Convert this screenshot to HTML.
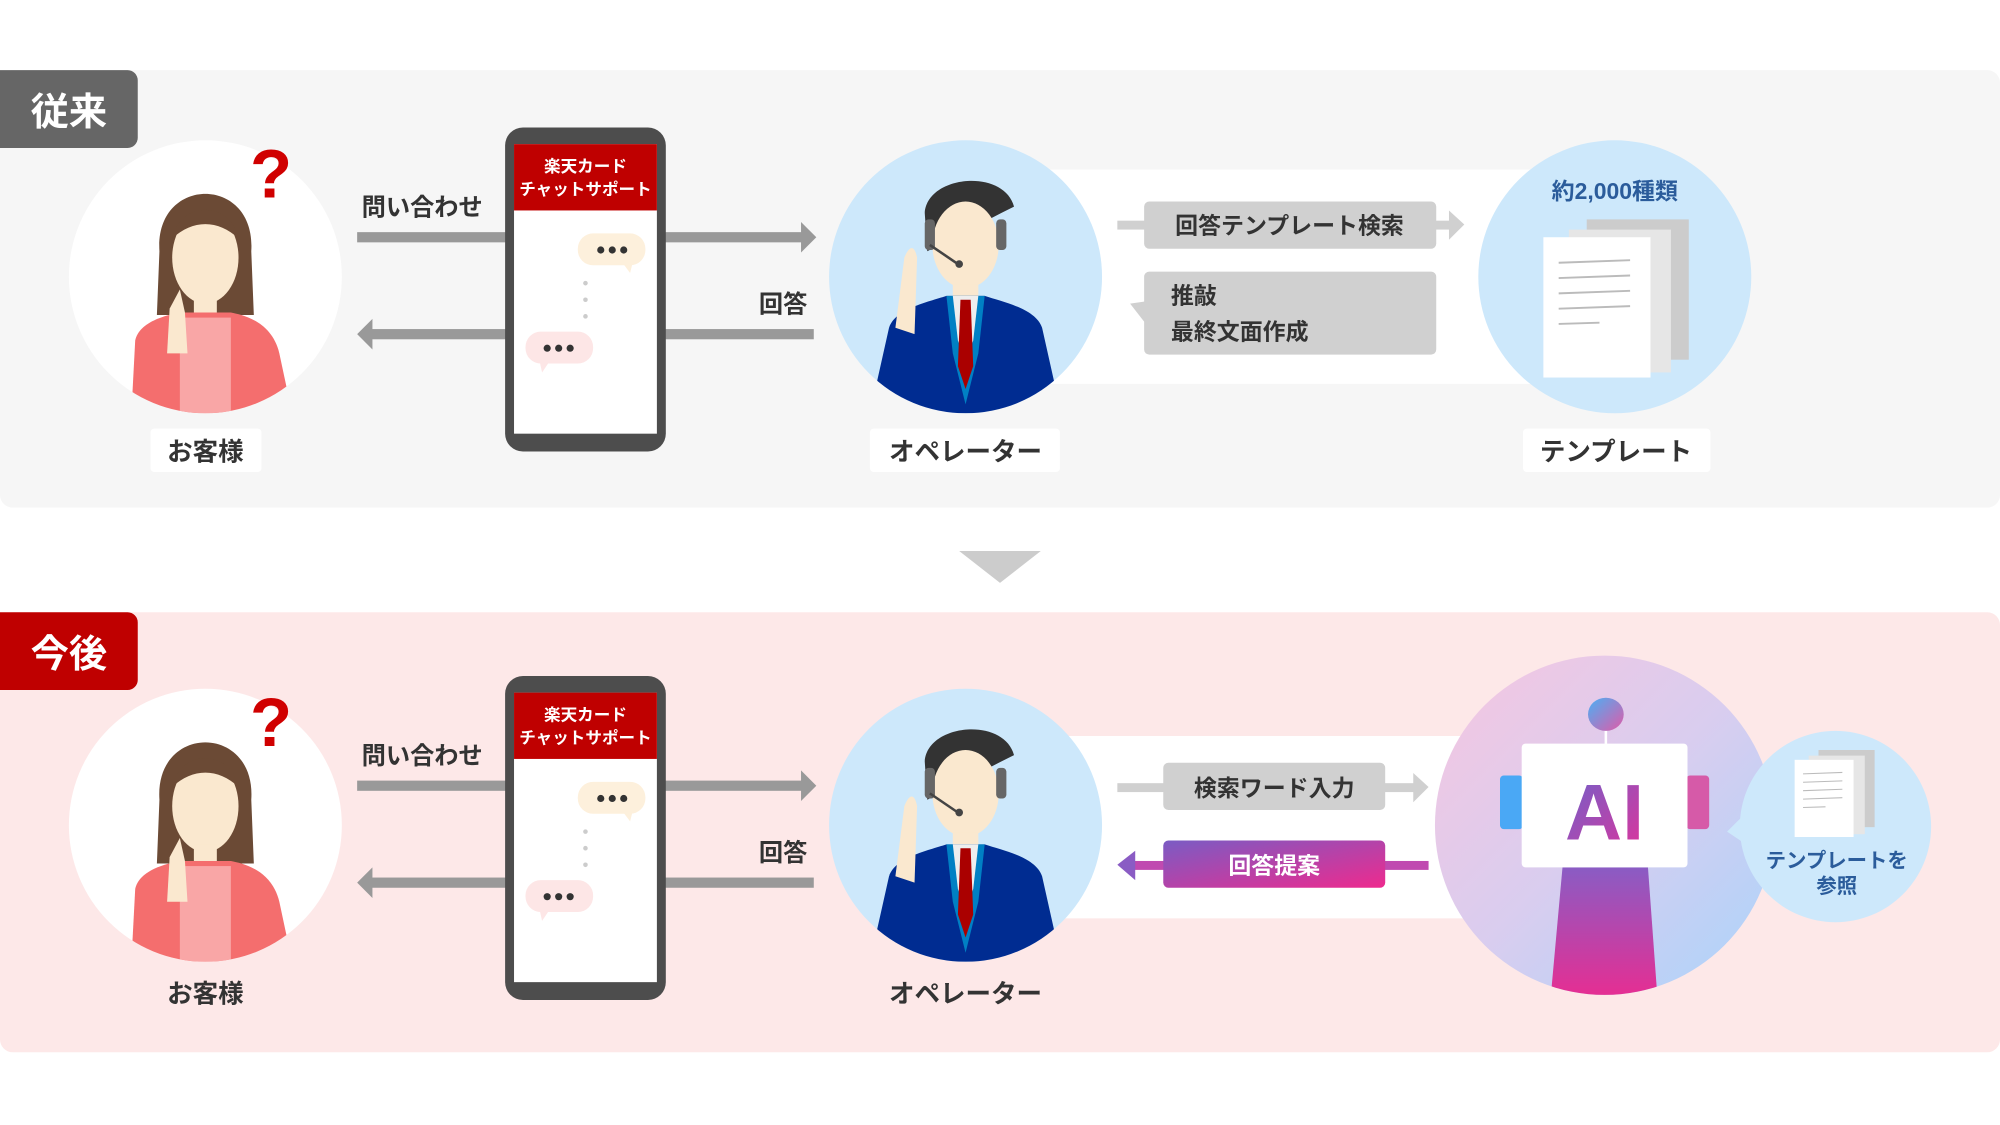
<!DOCTYPE html>
<html><head><meta charset="utf-8"><style>
html,body{margin:0;padding:0;background:#fff;width:2000px;height:1125px;overflow:hidden}
svg text{font-family:"Liberation Sans","Noto Sans CJK JP",sans-serif;font-weight:bold}
</style></head><body>
<svg width="2000" height="1125" viewBox="0 0 1568 882" xmlns="http://www.w3.org/2000/svg">
<defs>
<linearGradient id="gp" x1="0" y1="0" x2="1" y2="1"><stop offset="0" stop-color="#7a5cc4"/><stop offset="1" stop-color="#ee2a8e"/></linearGradient>
<linearGradient id="gai" x1="0" y1="0" x2="1" y2="1"><stop offset="0" stop-color="#f6c6e0"/><stop offset="0.5" stop-color="#d9cdef"/><stop offset="1" stop-color="#a9d4fb"/></linearGradient>
<linearGradient id="gtext" x1="0" y1="0" x2="1" y2="1"><stop offset="0" stop-color="#6b63cc"/><stop offset="1" stop-color="#e0339a"/></linearGradient>
<linearGradient id="gbody" x1="0" y1="0" x2="0" y2="1"><stop offset="0" stop-color="#8a5cc4"/><stop offset="1" stop-color="#ee2a8e"/></linearGradient>
<linearGradient id="gball" x1="0" y1="0" x2="1" y2="1"><stop offset="0" stop-color="#4ab0f5"/><stop offset="1" stop-color="#e05aa8"/></linearGradient>
<g id="woman">
<path d="M-36 -20 C-40 -80 40 -80 36 -20 L38 30 L-38 30 Z" fill="#6b4a35"/>
<ellipse cx="0" cy="-15" rx="26" ry="36" fill="#fae8cf"/>
<path d="M-26 -30 C-20 -60 20 -60 26 -30 C10 -45 -10 -45 -26 -30Z" fill="#6b4a35"/>
<rect x="-9" y="15" width="18" height="22" fill="#fae8cf"/>
<path d="M-58 107 L-55 50 C-52 35 -30 30 -20 28 L20 28 C30 30 52 35 58 60 L68 107 Z" fill="#f46e6e"/>
<rect x="-20" y="32" width="40" height="75" fill="#f9a6a6"/>
<path d="M-30 60 L-28 25 L-20 10 L-16 28 L-14 60Z" fill="#fae8cf"/>
</g>
<g id="man">
<path d="M-32 -50 C-30 -80 30 -85 38 -55 L28 -50 L-30 -20Z" fill="#333"/>
<ellipse cx="0" cy="-25" rx="26" ry="34" fill="#fae8cf"/>
<rect x="-32" y="-45" width="8" height="24" rx="3" fill="#666"/><rect x="24" y="-45" width="8" height="24" rx="3" fill="#666"/>
<path d="M-28 -25 L-6 -10" stroke="#444" stroke-width="2"/><circle cx="-5" cy="-10" r="3" fill="#444"/>
<rect x="-10" y="6" width="20" height="16" fill="#fae8cf"/>
<path d="M-75 107 L-60 40 C-55 25 -30 20 -15 15 L15 15 C30 20 55 25 60 40 L75 107Z" fill="#002c91"/>
<path d="M-15 15 L15 15 L10 60 L0 100 L-10 60Z" fill="#0080c4"/>
<path d="M-10 15 L10 15 L6 50 L0 65 L-6 50Z" fill="#eee"/>
<path d="M-4 18 L4 18 L6 70 L0 88 L-6 70Z" fill="#a00"/>
<path d="M-55 40 L-48 -15 C-44 -25 -40 -25 -38 -15 L-40 45Z" fill="#fae8cf"/>
</g>
<g id="phone">
<rect x="396" y="100" width="126" height="254" rx="14" fill="#4d4d4d"/>
<rect x="403" y="113" width="112" height="227" fill="#fff"/>
<rect x="403" y="113" width="112" height="52" fill="#bf0000"/>
<text x="459" y="135" font-size="13" fill="#fff" text-anchor="middle">楽天カード</text>
<text x="459" y="153" font-size="13" fill="#fff" text-anchor="middle">チャットサポート</text>
<rect x="453" y="183" width="53" height="25" rx="12" fill="#fdf0dc"/><path d="M488 206 L494 214 L496 206Z" fill="#fdf0dc"/>
<circle cx="471" cy="196" r="2.8" fill="#333"/><circle cx="480" cy="196" r="2.8" fill="#333"/><circle cx="489" cy="196" r="2.8" fill="#333"/>
<circle cx="459" cy="222" r="1.8" fill="#ccc"/><circle cx="459" cy="235" r="1.8" fill="#ccc"/><circle cx="459" cy="248" r="1.8" fill="#ccc"/>
<rect x="412" y="260" width="53" height="25" rx="12" fill="#fde6e6"/><path d="M423 283 L425 292 L431 283Z" fill="#fde6e6"/>
<circle cx="429" cy="273" r="2.8" fill="#333"/><circle cx="438" cy="273" r="2.8" fill="#333"/><circle cx="447" cy="273" r="2.8" fill="#333"/>
</g>
<g id="doc">
<rect x="34" y="0" width="80" height="110" fill="#ccc"/>
<rect x="20" y="8" width="80" height="112" fill="#e6e6e6"/>
<rect x="0" y="14" width="84" height="110" fill="#fff"/>
<g stroke="#bbb" stroke-width="1.5"><line x1="12" y1="34" x2="68" y2="32"/><line x1="12" y1="46" x2="68" y2="44"/><line x1="12" y1="58" x2="68" y2="56"/><line x1="12" y1="70" x2="68" y2="68"/><line x1="12" y1="82" x2="44" y2="81"/></g>
</g>
</defs>

<rect x="0" y="55" width="1568" height="343" rx="10" fill="#f6f6f6"/>
<path d="M0 55 H100 a8 8 0 0 1 8 8 V108 a8 8 0 0 1 -8 8 H0Z" fill="#666"/>
<text x="54" y="98" font-size="30" fill="#fff" text-anchor="middle">従来</text>

<circle cx="161" cy="217" r="107" fill="#fff"/>
<clipPath id="c1"><circle cx="161" cy="217" r="107"/></clipPath>
<g clip-path="url(#c1)"><use href="#woman" x="161" y="217"/></g>
<text x="196" y="155" font-size="54" fill="#d00000">?</text>
<rect x="118" y="336" width="87" height="34" rx="3" fill="#fff"/>
<text x="161" y="361" font-size="20" fill="#333" text-anchor="middle">お客様</text>

<text x="331" y="169" font-size="19" fill="#333" text-anchor="middle">問い合わせ</text>
<rect x="280" y="182" width="350" height="8" fill="#999"/><path d="M628 174 L640 186 L628 198Z" fill="#999"/>
<rect x="290" y="258" width="348" height="8" fill="#999"/><path d="M292 250 L280 262 L292 274Z" fill="#999"/>
<text x="614" y="245" font-size="19" fill="#333" text-anchor="middle">回答</text>
<use href="#phone"/>

<rect x="757" y="133" width="509" height="168" fill="#fff"/>
<circle cx="757" cy="217" r="107" fill="#cde8fb"/>
<clipPath id="c2"><circle cx="757" cy="217" r="107"/></clipPath>
<g clip-path="url(#c2)"><use href="#man" x="757" y="217"/></g>
<rect x="682" y="336" width="149" height="34" rx="3" fill="#fff"/>
<text x="757" y="361" font-size="20" fill="#333" text-anchor="middle">オペレーター</text>

<rect x="876" y="173" width="262" height="7" fill="#d0d0d0"/><path d="M1136 165 L1148 176 L1136 188Z" fill="#d0d0d0"/>
<rect x="897" y="158" width="229" height="37" rx="4" fill="#d0d0d0"/>
<text x="1011" y="183" font-size="18" fill="#333" text-anchor="middle">回答テンプレート検索</text>
<rect x="897" y="213" width="229" height="65" rx="4" fill="#d0d0d0"/><path d="M900 236 L886 238 L900 256Z" fill="#d0d0d0"/>
<text x="918" y="238" font-size="18" fill="#333">推敲</text>
<text x="918" y="266" font-size="18" fill="#333">最終文面作成</text>

<circle cx="1266" cy="217" r="107" fill="#cde8fb"/>
<text x="1266" y="156" font-size="18" fill="#2b5c9b" text-anchor="middle">約2,000種類</text>
<use href="#doc" x="1210" y="172"/>
<rect x="1194" y="336" width="147" height="34" rx="3" fill="#fff"/>
<text x="1267" y="361" font-size="20" fill="#333" text-anchor="middle">テンプレート</text>

<path d="M752 432 L816 432 L784 457Z" fill="#ccc"/>

<rect x="0" y="480" width="1568" height="345" rx="10" fill="#fde8e8"/>
<path d="M0 480 H100 a8 8 0 0 1 8 8 V533 a8 8 0 0 1 -8 8 H0Z" fill="#bf0000"/>
<text x="54" y="523" font-size="30" fill="#fff" text-anchor="middle">今後</text>

<circle cx="161" cy="647" r="107" fill="#fff"/>
<clipPath id="c3"><circle cx="161" cy="647" r="107"/></clipPath>
<g clip-path="url(#c3)"><use href="#woman" x="161" y="647"/></g>
<text x="196" y="585" font-size="54" fill="#d00000">?</text>
<text x="161" y="786" font-size="20" fill="#333" text-anchor="middle">お客様</text>

<g transform="translate(0,430)">
<text x="331" y="169" font-size="19" fill="#333" text-anchor="middle">問い合わせ</text>
<rect x="280" y="182" width="350" height="8" fill="#999"/><path d="M628 174 L640 186 L628 198Z" fill="#999"/>
<rect x="290" y="258" width="348" height="8" fill="#999"/><path d="M292 250 L280 262 L292 274Z" fill="#999"/>
<text x="614" y="245" font-size="19" fill="#333" text-anchor="middle">回答</text>
<use href="#phone"/>
</g>

<rect x="757" y="577" width="501" height="143" fill="#fff"/>
<circle cx="757" cy="647" r="107" fill="#cde8fb"/>
<clipPath id="c4"><circle cx="757" cy="647" r="107"/></clipPath>
<g clip-path="url(#c4)"><use href="#man" x="757" y="647"/></g>
<text x="757" y="786" font-size="20" fill="#333" text-anchor="middle">オペレーター</text>

<rect x="876" y="614" width="234" height="7" fill="#d0d0d0"/><path d="M1108 606 L1120 617 L1108 629Z" fill="#d0d0d0"/>
<rect x="912" y="598" width="174" height="37" rx="4" fill="#d0d0d0"/>
<text x="999" y="624" font-size="18" fill="#333" text-anchor="middle">検索ワード入力</text>
<rect x="888" y="675" width="232" height="7" fill="#c04ab0"/><path d="M890 667 L876 678 L890 690Z" fill="#8a5cc4"/>
<rect x="912" y="659" width="174" height="37" rx="4" fill="url(#gp)"/>
<text x="999" y="685" font-size="18" fill="#fff" text-anchor="middle">回答提案</text>

<circle cx="1258" cy="647" r="133" fill="url(#gai)"/>
<clipPath id="c5"><circle cx="1258" cy="647" r="133"/></clipPath>
<path d="M1225 680 L1292 680 L1300 790 L1215 790Z" fill="url(#gbody)" clip-path="url(#c5)"/>
<line x1="1259" y1="570" x2="1259" y2="585" stroke="#fff" stroke-width="2"/>
<ellipse cx="1259" cy="560" rx="14" ry="13" fill="url(#gball)"/>
<rect x="1176" y="608" width="18" height="42" rx="3" fill="#4aa8f5"/>
<rect x="1322" y="608" width="18" height="42" rx="3" fill="#d65aa8"/>
<rect x="1193" y="583" width="130" height="97" rx="3" fill="#fff"/>
<text x="1258" y="658" font-size="62" fill="url(#gtext)" text-anchor="middle">AI</text>

<circle cx="1439" cy="648" r="75" fill="#cde8fb"/>
<path d="M1366 640 L1354 652 L1366 660Z" fill="#cde8fb"/>
<use href="#doc" transform="translate(1407,588) scale(0.55)"/>
<text x="1440" y="680" font-size="16" fill="#2b5c9b" text-anchor="middle">テンプレートを</text>
<text x="1440" y="700" font-size="16" fill="#2b5c9b" text-anchor="middle">参照</text>
</svg>
</body></html>
